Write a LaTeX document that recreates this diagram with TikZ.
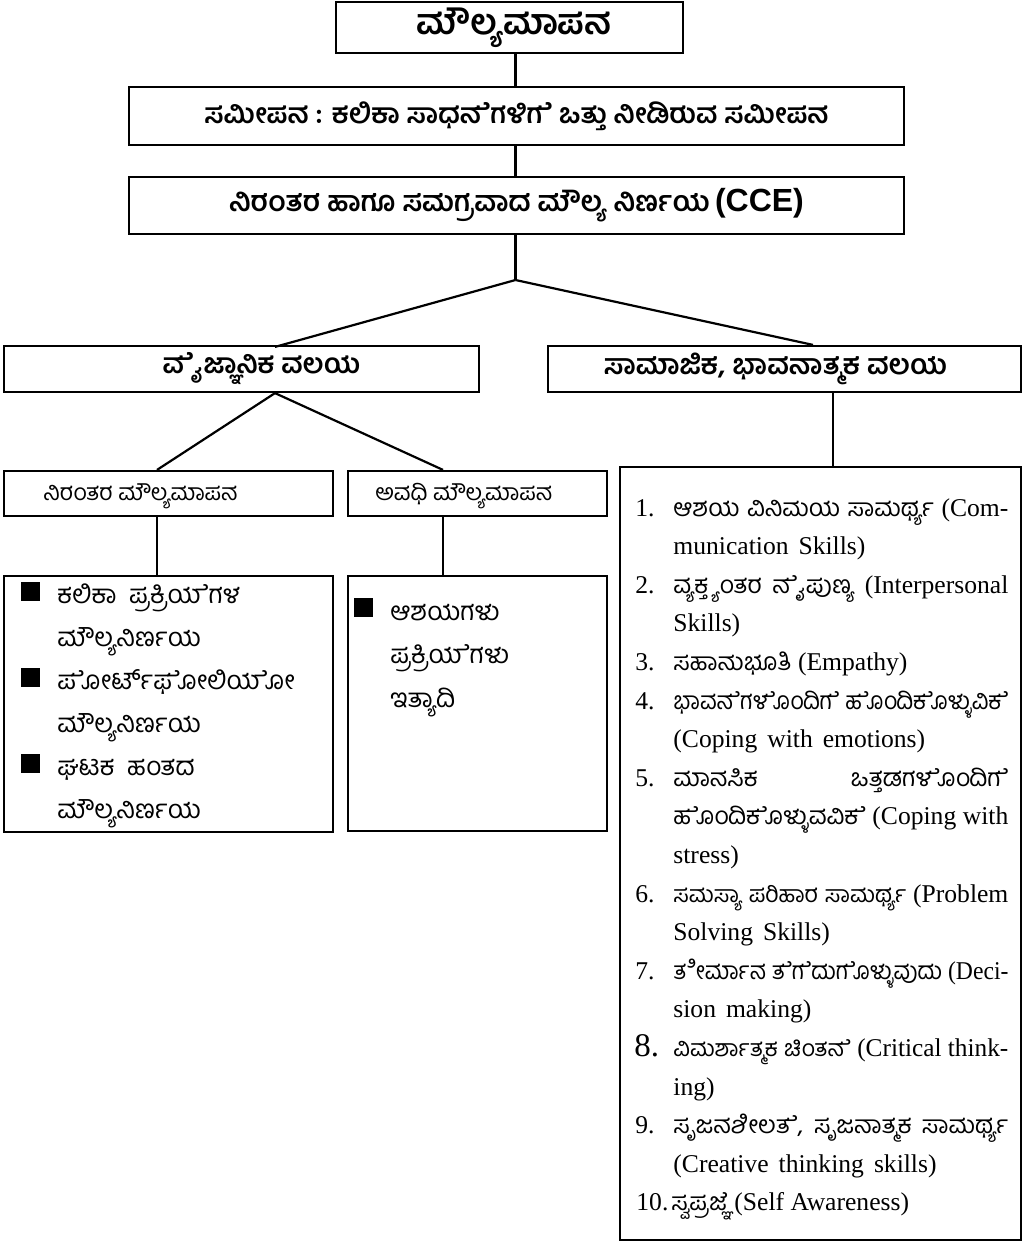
\documentclass[tikz,border=0pt]{standalone}
\usepackage{fontspec}
\usepackage{graphicx}
\setmainfont{Liberation Serif}
\newfontfamily\kn[Script=Kannada]{Hind Mysuru}
\newfontfamily\arialfam{Liberation Sans}
\newcommand\zj{^^^^200d}
\newcommand\rk[1]{{\kn\fontsize{12.3}{14}\selectfont #1}}
\newcommand\rks[1]{{\kn\fontsize{11.6}{14}\selectfont #1}}
\newcommand\lk[1]{{\kn\fontsize{13}{15}\selectfont #1}}
\newcommand\ws{\hspace{5pt}}
\newsavebox\lnbox
\newcommand\jline[1]{\sbox\lnbox{#1}\ifdim\wd\lnbox>167.5pt\resizebox{167.5pt}{\height}{\usebox\lnbox}\else\makebox[167.5pt][s]{#1}\fi}
\tikzset{
  box/.style={draw, line width=1.1pt, rectangle, inner sep=0pt},
  conn/.style={line width=1.1pt},
  tline/.style={anchor=base west, inner sep=0pt, font=\fontsize{12.8}{15}\selectfont},
  numb/.style={anchor=base west, inner sep=0pt, font=\fontsize{12.8}{15}\selectfont},
  bullet/.style={fill=black, draw=none, minimum size=9.5pt, inner sep=0pt, rectangle},
}
\begin{document}
\begin{tikzpicture}[x=0.5pt,y=-0.5pt]
\useasboundingbox (0,0) rectangle (1025,1243);
% top boxes
\node[box, minimum width=173.5pt, minimum height=25.5pt] (b1) at (509.5,27.5)
  {\kn\bfseries\fontsize{17.6}{20}\selectfont\hspace*{4.5pt}ಮೌಲ್ಯಮಾಪನ};
\node[box, minimum width=387.5pt, minimum height=29pt] (b2) at (516.5,116)
  {\kn\bfseries\fontsize{13.8}{15}\selectfont ಸಮೀಪನ : ಕಲಿಕಾ ಸಾಧನ\zj ೆಗಳಿಗ\zj ೆ ಒತ್ತು ನೀಡಿರುವ ಸಮೀಪನ};
\node[box, minimum width=387.5pt, minimum height=28.5pt] (b3) at (516.5,205.5)
  {{\kn\bfseries\fontsize{14.1}{15}\selectfont ನಿರಂತರ ಹಾಗೂ ಸಮಗ್ರವಾದ ಮೌಲ್ಯ ನಿರ್ಣಯ} {\arialfam\bfseries\fontsize{16}{17}\selectfont (CCE)}};
\node[box, minimum width=237.5pt, minimum height=23pt] (b4l) at (241.5,369)
  {\kn\bfseries\fontsize{13.8}{16}\selectfont\hspace*{20pt}ವ\zj ೈಜ್ಞಾನಿಕ ವಲಯ};
\node[box, minimum width=236.5pt, minimum height=23pt] (b4r) at (784.5,369)
  {\kn\bfseries\fontsize{14}{16}\selectfont ಸಾಮಾಜಿಕ, ಭಾವನಾತ್ಮಕ ವಲಯ\hspace*{9pt}};
% second level
\node[box, minimum width=164.5pt, minimum height=22.5pt] (b5a) at (168.5,493.5) {};
\node[box, minimum width=129.5pt, minimum height=22.5pt] (b5b) at (477.5,493.5) {};
\node[tline] (t5a) at (43,500) {\kn\fontsize{11.5}{13}\selectfont ನಿರಂತರ ಮೌಲ್ಯಮಾಪನ};
\node[tline] (t5b) at (375,500) {\kn\fontsize{11.5}{13}\selectfont ಅವಧಿ ಮೌಲ್ಯಮಾಪನ};
\node[box, minimum width=164.5pt, minimum height=128pt] (b6a) at (168.5,704) {};
\node[box, minimum width=129.5pt, minimum height=127.5pt] (b6b) at (477.5,703.5) {};
\node[box, minimum width=200.5pt, minimum height=386.5pt] (br) at (820.5,853.5) {};
% connector points
\coordinate (sp) at (515.5,0);
\coordinate (jn) at (515.5,280);
\coordinate (pl) at (275,0);
\coordinate (pr) at (813,0);
\coordinate (qa) at (157,0);
\coordinate (qb) at (443,0);
\coordinate (qr) at (833,0);
\draw[conn] (b1.south -| sp) -- (b2.north -| sp);
\draw[conn] (b2.south -| sp) -- (b3.north -| sp);
\draw[conn] (b3.south -| sp) -- (jn);
\draw[conn] (jn) -- ([yshift=-1pt]b4l.north -| pl);
\draw[conn] (jn) -- (b4r.north -| pr);
\draw[conn] (b4l.south -| pl) -- (b5a.north -| qa);
\draw[conn] (b4l.south -| pl) -- (b5b.north -| qb);
\draw[conn] (b5a.south -| qa) -- (b6a.north -| qa);
\draw[conn] (b5b.south -| qb) -- (b6b.north -| qb);
\draw[conn] (b4r.south -| qr) -- (br.north -| qr);
% box 6a content
\node[bullet] (s1) at (30.5,591.5) {};
\node[bullet] (s2) at (30.5,677.5) {};
\node[bullet] (s3) at (30.5,763.5) {};
\node[tline] (a1) at (57,603) {\lk{ಕಲಿಕಾ\ \ ಪ್ರಕ್ರಿಯ\zj ೆಗಳ}};
\node[tline] (a2) at (57,646) {\lk{ಮೌಲ್ಯನಿರ್ಣಯ}};
\node[tline] (a3) at (57,689) {\lk{ಪ\zj ೋರ್ಟ್‌ಫ\zj ೋಲಿಯ\zj ೋ}};
\node[tline] (a4) at (57,732) {\lk{ಮೌಲ್ಯನಿರ್ಣಯ}};
\node[tline] (a5) at (57,775) {\lk{ಘಟಕ\ \ ಹಂತದ}};
\node[tline] (a6) at (57,818) {\lk{ಮೌಲ್ಯನಿರ್ಣಯ}};
% box 6b content
\node[bullet] (s4) at (363.5,607.5) {};
\node[tline] (c1) at (390,620) {\lk{ಆಶಯಗಳು}};
\node[tline] (c2) at (390,663) {\lk{ಪ್ರಕ್ರಿಯ\zj ೆಗಳು}};
\node[tline] (c3) at (390,707) {\lk{ಇತ್ಯಾದಿ}};
% right box content
\node[numb] (n1) at (635,516) {1.};
\node[tline] (r1) at (673,516) {\jline{\rk{ಆಶಯ} \rk{ವಿನಿಮಯ} \rk{ಸಾಮರ್ಥ್ಯ} (Com-}};
\node[tline] (r2) at (673,554.6) {munication\ws Skills)};
\node[numb] (n2) at (635,593.2) {2.};
\node[tline] (r3) at (673,593.2) {\jline{\rk{ವ್ಯಕ್ತ್ಯಂತರ} \rk{ನ\zj ೈಪುಣ್ಯ} (Interpersonal}};
\node[tline] (r4) at (673,631.8) {Skills)};
\node[numb] (n3) at (635,670.4) {3.};
\node[tline] (r5) at (673,670.4) {\rk{ಸಹಾನುಭೂತಿ} (Empathy)};
\node[numb] (n4) at (635,709) {4.};
\node[tline] (r6) at (673,709) {\jline{\rk{ಭಾವನ\zj ೆಗಳ\zj ೊಂದಿಗ\zj ೆ} \rk{ಹ\zj ೊಂದಿಕ\zj ೊಳ್ಳುವಿಕ\zj ೆ}}};
\node[tline] (r7) at (673,747.6) {(Coping\ws with\ws emotions)};
\node[numb] (n5) at (635,786.2) {5.};
\node[tline] (r8) at (673,786.2) {\jline{\rk{ಮಾನಸಿಕ} \rk{ಒತ್ತಡಗಳ\zj ೊಂದಿಗ\zj ೆ}}};
\node[tline] (r9) at (673,824.8) {\jline{\rk{ಹ\zj ೊಂದಿಕ\zj ೊಳ್ಳುವವಿಕ\zj ೆ} (Coping with}};
\node[tline] (r10) at (673,863.4) {stress)};
\node[numb] (n6) at (635,902) {6.};
\node[tline] (r11) at (673,902) {\jline{\rks{ಸಮಸ್ಯಾ} \rks{ಪರಿಹಾರ} \rks{ಸಾಮರ್ಥ್ಯ} (Problem}};
\node[tline] (r12) at (673,940.6) {Solving\ws Skills)};
\node[numb] (n7) at (635,979.2) {7.};
\node[tline] (r13) at (673,979.2) {\jline{\rk{ತ\zj ೀರ್ಮಾನ} \rk{ತ\zj ೆಗ\zj ೆದುಗ\zj ೊಳ್ಳುವುದು} (Deci-}};
\node[tline] (r14) at (673,1017.8) {sion\ws making)};
\node[numb, font=\fontsize{16.5}{19}\selectfont] (n8) at (634,1056.4) {8.};
\node[tline] (r15) at (673,1056.4) {\jline{\rks{ವಿಮರ್ಶಾತ್ಮಕ} \rks{ಚಿಂತನ\zj ೆ} (Critical think-}};
\node[tline] (r16) at (673,1095) {ing)};
\node[numb] (n9) at (635,1133.6) {9.};
\node[tline] (r17) at (673,1133.6) {\jline{\rk{ಸೃಜನಶೀಲತ\zj ೆ,} \rk{ಸೃಜನಾತ್ಮಕ} \rk{ಸಾಮರ್ಥ್ಯ}}};
\node[tline] (r18) at (673,1172.2) {(Creative\ws thinking\ws skills)};
\node[numb] (n10) at (636,1210.8) {10.};
\node[tline] (r19) at (671,1210.8) {\rk{ಸ್ವಪ್ರಜ್ಞ\zj ೆ} (Self Awareness)};
\end{tikzpicture}
\end{document}
